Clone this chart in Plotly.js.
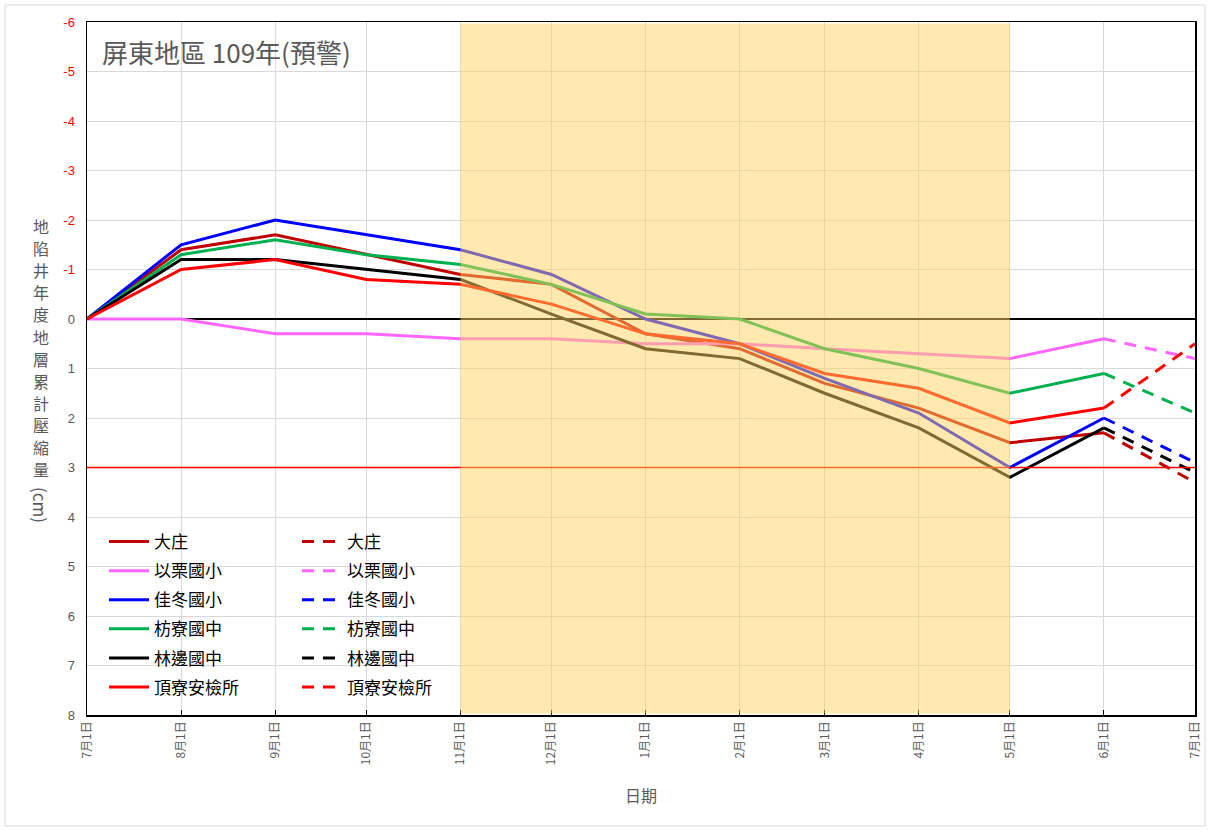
<!DOCTYPE html>
<html><head><meta charset="utf-8">
<script src="https://cdn.plot.ly/plotly-3.0.1.min.js"></script>
<style>body{margin:0;background:#fff;} #chart{width:1211px;height:831px;}</style>
</head><body><div id="chart"></div>
<script>
// ---- data ----
const dates = ['2020-07-01','2020-08-01','2020-09-01','2020-10-01','2020-11-01','2020-12-01',
               '2021-01-01','2021-02-01','2021-03-01','2021-04-01','2021-05-01','2021-06-01'];
const predDates = ['2021-06-01','2021-07-01'];
const stations = ['大庄','以栗國小','佳冬國小','枋寮國中','林邊國中','頂寮安檢所'];
const dazhuang = [0,-1.4,-1.7,-1.3,-0.9,-0.7,0.3,0.6,1.3,1.8,2.5,2.3];
const yili     = [0,0,0.3,0.3,0.4,0.4,0.5,0.5,0.6,0.7,0.8,0.4];
const jiadong  = [0,-1.5,-2.0,-1.7,-1.4,-0.9,0,0.5,1.2,1.9,3.0,2.0];
const fangliao = [0,-1.3,-1.6,-1.3,-1.1,-0.7,-0.1,0,0.6,1.0,1.5,1.1];
const linbian  = [0,-1.2,-1.2,-1.0,-0.8,-0.1,0.6,0.8,1.5,2.2,3.2,2.2];
const dingliao = [0,-1.0,-1.2,-0.8,-0.7,-0.3,0.3,0.5,1.1,1.4,2.1,1.8];
const predJul  = [3.3,0.8,2.9,1.9,3.1,0.5];
const yTicks = [-6,-5,-4,-3,-2,-1,0,1,2,3,4,5,6,7,8];
const warnLevel = 3;
const warnStart = '2020-11-01', warnEnd = '2021-05-01';
const yTitleText = '地陷井年度地層累計壓縮量';

// ---- styles ----
const colors = ['#C00000','#FF66FF','#0000FF','#00B050','#000000','#FF0000'];
const series = [dazhuang, yili, jiadong, fangliao, linbian, dingliao];
const cjk = '"Noto Sans CJK TC", "Noto Sans", sans-serif';

const traces = [];
series.forEach((s,i)=>{
  traces.push({x:dates, y:s, type:'scatter', mode:'lines', name:stations[i],
    line:{color:colors[i], width:3}, legend:'legend', legendgroup:'s'+i, hoverinfo:'skip'});
});
series.forEach((s,i)=>{
  traces.push({x:predDates, y:[s[s.length-1], predJul[i]], type:'scatter', mode:'lines', name:stations[i],
    line:{color:colors[i], width:3, dash:'12px,9px'}, legend:'legend2', legendgroup:'d'+i, hoverinfo:'skip'});
});

const yTickText = yTicks.map(v => v < 0 ? '<span style="color:#FF0000">'+v+'</span>' : String(v));

const plotL = 87, plotR = 1195, plotT = 22, plotB = 715, W = 1211, H = 831;
const pw = plotR - plotL, ph = plotB - plotT;
const px = x => (x - plotL)/pw;
const py = y => (plotB - y)/ph;

const annotations = [
  {text: '屏東地區 109年(預警)', xref: 'paper', yref: 'paper', x: px(100), y: py(52),
   xanchor: 'left', yanchor: 'middle', showarrow: false,
   font: {family: cjk, size: 26, color: '#595959'}},
  {text: '(cm)', xref: 'paper', yref: 'paper', x: px(41), y: py(505),
   xanchor: 'center', yanchor: 'middle', showarrow: false, textangle: 90,
   font: {family: cjk, size: 17, color: '#595959'}}
];
yTitleText.split('').forEach((ch, i) => {
  annotations.push({text: ch, xref: 'paper', yref: 'paper', x: px(41), y: py(226 + i*22.1),
    xanchor: 'center', yanchor: 'middle', showarrow: false,
    font: {family: cjk, size: 16, color: '#595959'}});
});

const layout = {
  width: W, height: H,
  margin: {l: plotL, r: W-plotR, t: plotT, b: H-plotB},
  paper_bgcolor: '#ffffff', plot_bgcolor: '#ffffff',
  showlegend: true,
  xaxis: {
    type: 'date', range: ['2020-07-01','2021-07-01'],
    tick0: '2020-07-01', dtick: 'M1', tickformat: '%-m月%-d日', tickangle: -90,
    tickfont: {family: cjk, size: 12, color: '#595959'},
    showgrid: true, gridcolor: '#D9D9D9', gridwidth: 1,
    showline: true, linecolor: '#000000', linewidth: 1.5, mirror: true,
    ticks: 'inside', ticklen: 5, tickcolor: '#000000',
    zeroline: false,
    title: {text: '日期', font: {family: cjk, size: 16, color: '#595959'}, standoff: 26}
  },
  yaxis: {
    range: [8, -6], tickvals: yTicks, ticktext: yTickText,
    tickfont: {family: '"Liberation Sans", Arial, sans-serif', size: 13, color: '#595959'},
    showgrid: true, gridcolor: '#D9D9D9', gridwidth: 1,
    showline: true, linecolor: '#000000', linewidth: 1.5, mirror: true,
    ticks: '', zeroline: true, zerolinecolor: '#000000', zerolinewidth: 1.2,
    ticklabelstandoff: 8
  },
  legend: {x: px(104), y: py(524), xanchor: 'left', yanchor: 'top', bgcolor: 'rgba(0,0,0,0)',
    font: {family: cjk, size: 17, color: '#000000'}, tracegroupgap: 4, itemwidth: 40},
  legend2: {x: px(297), y: py(524), xanchor: 'left', yanchor: 'top', bgcolor: 'rgba(0,0,0,0)',
    font: {family: cjk, size: 17, color: '#000000'}, tracegroupgap: 4, itemwidth: 40},
  shapes: [
    {type: 'line', xref: 'paper', x0: 0, x1: 1, yref: 'y', y0: warnLevel, y1: warnLevel,
     line: {color: 'rgb(255,0,0)', width: 1.3}, layer: 'above'},
    {type: 'rect', xref: 'x', x0: warnStart, x1: warnEnd, yref: 'paper', y0: 0.002, y1: 0.998,
     fillcolor: 'rgba(255,212,96,0.5)', line: {width: 0}, layer: 'above'},
    {type: 'rect', xref: 'paper', yref: 'paper', x0: px(5), x1: px(1205), y0: py(826), y1: py(5),
     line: {color: '#D9D9D9', width: 1}, fillcolor: 'rgba(0,0,0,0)', layer: 'below'}
  ],
  annotations: annotations
};

Plotly.newPlot('chart', traces, layout, {displayModeBar: false, staticPlot: true});
</script>
</body></html>
